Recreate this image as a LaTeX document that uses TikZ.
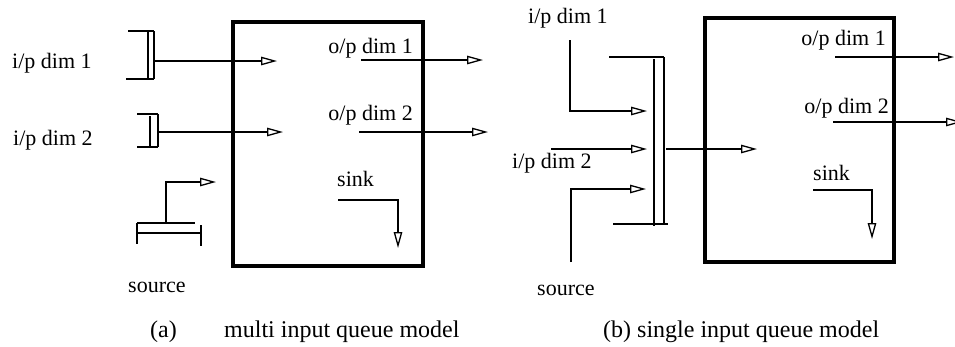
\documentclass[tikz,border=0pt]{standalone}
\usepackage{fontspec}
\setmainfont{Liberation Serif}
\usetikzlibrary{arrows.meta}
\begin{document}
\begin{tikzpicture}[x=1pt,y=-1pt,
  ln/.style={line width=1.3pt},
  flow/.style={line width=1.3pt,-{Triangle[open,length=16pt,width=8.5pt,line width=1.3pt]}},
  qbox/.style={draw,line width=4pt,inner sep=0pt,outer sep=0pt},
  lbl/.style={inner sep=0pt,font=\fontsize{22}{26}\selectfont},
  captxt/.style={inner sep=0pt,font=\fontsize{24}{28}\selectfont}]
\useasboundingbox (0,0) rectangle (955,346);

% ---------- (a) multi input queue model ----------
\node[qbox,minimum width=190pt,minimum height=244pt] (boxa) at (328,144) {};
\node[lbl,anchor=base west] (ipa1) at (12,68) {i/p dim 1};
\node[lbl,anchor=base west] (ipa2) at (13,145) {i/p dim 2};
\node[lbl,anchor=base west] (srca) at (128,292) {source};
\node[lbl,anchor=base east] (opa1) at (413,53) {o/p dim 1};
\node[lbl,anchor=base east] (opa2) at (413,120) {o/p dim 2};
\node[lbl,anchor=base west] (sinka) at (337,186) {sink};
\node[captxt,anchor=base west] (capa1) at (150,337) {(a)};
\node[captxt,anchor=base west] (capa2) at (224,337) {multi input queue model};

% queue bracket 1
\draw[ln] (128,31) -- (154,31);
\draw[ln] (126,79) -- (154,79);
\draw[ln] (148,31) -- (148,79);
\draw[ln] (154,31) -- (154,79);
\draw[flow] (154,61) -- (277,61);
% queue bracket 2
\draw[ln] (137,114) -- (158,114);
\draw[ln] (137,147) -- (158,147);
\draw[ln] (150,116) -- (150,146);
\draw[ln] (158,114) -- (158,147);
\draw[flow] (158,132) -- (283,132);
% source
\draw[flow] (166,223) -- (166,182) -- (216,182);
\draw[ln] (137,223) -- (195,223);
\draw[ln] (137,233) -- (201,233);
\draw[ln] (137,223) -- (137,244);
\draw[ln] (201,225) -- (201,246);
% outputs
\draw[flow] (361,60) -- (483,60);
\draw[flow] (359,132) -- (488,132);
\draw[flow] (338,200) -- (398,200) -- (398,248);

% ---------- (b) single input queue model ----------
\node[qbox,minimum width=189pt,minimum height=244pt] (boxb) at (799.5,140) {};
\node[lbl,anchor=base west] (ipb1) at (528,23) {i/p dim 1};
\node[lbl,anchor=base west] (ipb2) at (512,168) {i/p dim 2};
\node[lbl,anchor=base west] (srcb) at (537,295) {source};
\node[lbl,anchor=base east] (opb1) at (886,45) {o/p dim 1};
\node[lbl,anchor=base east] (opb2) at (889,113) {o/p dim 2};
\node[lbl,anchor=base west] (sinkb) at (813,180) {sink};
\node[captxt,anchor=base west] (capb) at (603,337) {(b) single input queue model};

\draw[flow] (570,40) -- (570,111) -- (647,111);
\draw[flow] (551,149) -- (647,149);
\draw[flow] (571,262) -- (571,189) -- (646,189);
% single queue bar
\draw[ln] (609,57) -- (664,57);
\draw[ln] (664,57) -- (664,224);
\draw[ln] (654,59) -- (654,226);
\draw[ln] (613,224) -- (668,224);
\draw[flow] (666,149) -- (757,149);
% outputs
\draw[flow] (835,57) -- (954,57);
\draw[flow] (833,122) -- (962,122);
\draw[flow] (813,190) -- (872,190) -- (872,239);
\end{tikzpicture}
\end{document}
